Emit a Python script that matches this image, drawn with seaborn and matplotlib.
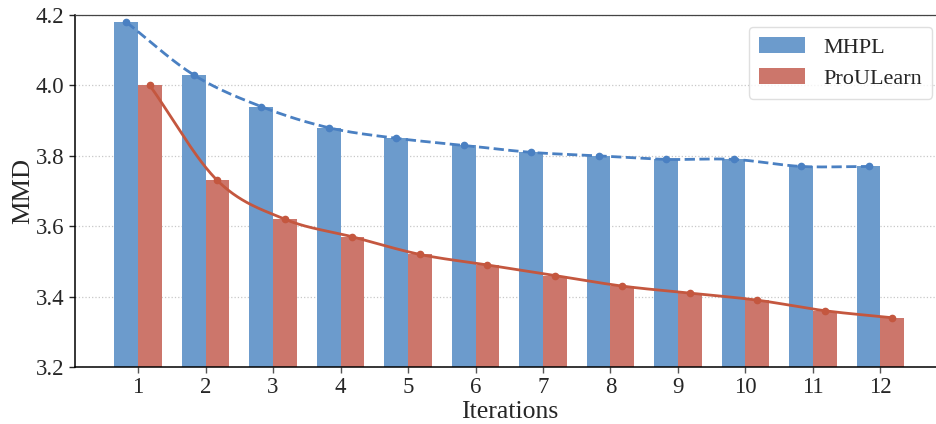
import numpy as np
import pandas as pd

import matplotlib
matplotlib.use("Agg")
import matplotlib.pyplot as plt
import seaborn as sns

#####################################
### DATA
#####################################
iterations = [1, 2, 3, 4, 5, 6, 7, 8, 9, 10, 11, 12]
mhpl = [4.18, 4.03, 3.94, 3.88, 3.85, 3.83, 3.81, 3.80, 3.79, 3.79, 3.77, 3.77]
proulearn = [4.00, 3.73, 3.62, 3.57, 3.52, 3.49, 3.46, 3.43, 3.41, 3.39, 3.36, 3.34]
methods = ["MHPL", "ProULearn"]

df = pd.DataFrame({
    "Iterations": iterations * 2,
    "MMD": mhpl + proulearn,
    "Method": ["MHPL"] * len(mhpl) + ["ProULearn"] * len(proulearn),
})

bar_colors = {"MHPL": "#6c9bcc", "ProULearn": "#cc766b"}
line_colors = {"MHPL": "#4a80c2", "ProULearn": "#c4573f"}


def smooth(x, y, n=30):
    # Hermite curve through the points, only for drawing
    x = np.asarray(x, float)
    y = np.asarray(y, float)
    m = np.gradient(y, x)
    xs, ys = [], []
    for i in range(len(x) - 1):
        h = x[i + 1] - x[i]
        t = np.linspace(0, 1, n, endpoint=False)
        h00 = 2 * t**3 - 3 * t**2 + 1
        h10 = t**3 - 2 * t**2 + t
        h01 = -2 * t**3 + 3 * t**2
        h11 = t**3 - t**2
        xs.append(x[i] + t * h)
        ys.append(h00 * y[i] + h10 * h * m[i] + h01 * y[i + 1] + h11 * h * m[i + 1])
    xs.append([x[-1]])
    ys.append([y[-1]])
    return np.concatenate(xs), np.concatenate(ys)


#####################################
### PLOT
#####################################
sns.set_style("white")
plt.rcParams["font.family"] = ["Liberation Serif", "DejaVu Serif"]

fig = plt.figure(figsize=(9.37, 4.24), dpi=100)
ax = fig.add_axes([0.080, 0.1344, 0.927, 0.830])

sns.barplot(
    data=df, x="Iterations", y="MMD", hue="Method",
    palette=bar_colors, saturation=1, width=0.7, ax=ax,
    errorbar=None, linewidth=0, zorder=2,
)

offsets = {"MHPL": -0.175, "ProULearn": 0.175}
styles = {"MHPL": "--", "ProULearn": "-"}
for name, vals in [("MHPL", mhpl), ("ProULearn", proulearn)]:
    xpos = np.arange(len(vals)) + offsets[name]
    sx, sy = smooth(xpos, vals)
    ax.plot(sx, sy, color=line_colors[name], linestyle=styles[name],
            linewidth=2, zorder=3)
    ax.plot(xpos, vals, "o", color=line_colors[name], markersize=4.5, zorder=4)

ax.set_ylim(3.2, 4.2)
ax.set_xlim(-0.935, 11.935)
ax.set_yticks([3.2, 3.4, 3.6, 3.8, 4.0, 4.2])
ax.set_yticklabels(["3.2", "3.4", "3.6", "3.8", "4.0", "4.2"])
ax.yaxis.grid(True, linestyle=":", color="#c8c8c8", linewidth=0.9, zorder=0)
ax.set_axisbelow(True)

ax.tick_params(axis="both", labelsize=16.5, length=4, width=1,
               bottom=True, left=True)
ax.tick_params(axis="x", color="#555555")
ax.set_xlabel("Iterations", fontsize=18.5, labelpad=2)
ax.set_ylabel("MMD", fontsize=19, labelpad=1)

for s in ["left", "bottom"]:
    ax.spines[s].set_color("black")
    ax.spines[s].set_linewidth(1.1)
ax.spines["top"].set_color("#444444")
ax.spines["top"].set_linewidth(0.9)
ax.spines["right"].set_visible(False)

leg = ax.legend(loc="upper right", fontsize=16, frameon=True,
                handlelength=2.1, handleheight=0.75,
                borderpad=0.45, labelspacing=0.45, borderaxespad=0,
                bbox_to_anchor=(932 / 937, 1 - 27 / 424),
                bbox_transform=fig.transFigure)
leg.get_frame().set_edgecolor("#d8d8d8")
leg.get_frame().set_linewidth(1)

fig.savefig("out.png", dpi=100)
plt.close()
